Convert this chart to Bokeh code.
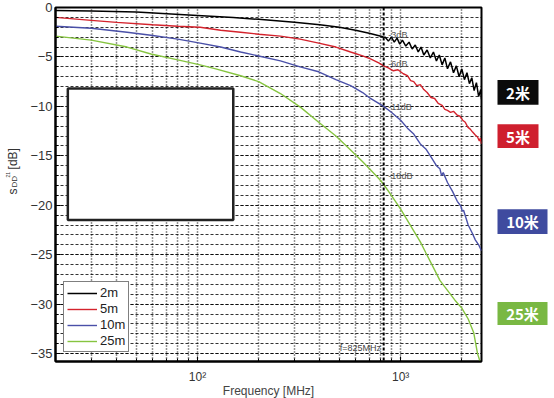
import math
from bokeh.plotting import figure
from bokeh.layouts import row
from bokeh.models import FixedTicker, Label, Legend, LegendItem, Span, Range1d
from bokeh.core.properties import value
from bokeh.embed import file_html
from bokeh.resources import INLINE

# ---------------- data ----------------
freq_2m = [20, 30, 50, 100, 150, 200, 300, 400, 500, 600, 700, 800, 825,
           840, 870, 900, 930, 960, 990, 1020, 1060, 1100, 1140, 1180, 1220, 1260, 1300,
           1350, 1400, 1450, 1500, 1550, 1600, 1650, 1700, 1760, 1820, 1880, 1940, 2000,
           2060, 2120, 2180, 2240, 2300, 2360, 2420, 2480, 2500]
db_2m = [-0.3, -0.35, -0.45, -0.8, -1.0, -1.2, -1.5, -1.75, -2.0, -2.3, -2.6, -2.9, -3.0,
         -3.0, -3.4, -3.0, -3.5, -3.1, -3.7, -3.3, -3.9, -3.5, -4.2, -3.8, -4.5, -4.0, -4.8,
         -4.3, -5.1, -4.5, -5.4, -4.8, -5.8, -5.1, -6.2, -5.5, -6.6, -5.9, -7.0, -6.2,
         -7.3, -6.6, -7.7, -7.1, -8.4, -7.6, -9.0, -8.3, -9.3]

freq_5m = [20, 30, 40, 60, 80, 103, 130, 163, 200, 256, 320, 395, 480, 567, 650, 710, 780,
           825, 870, 920, 970, 1030, 1080, 1120, 1160, 1200, 1250, 1300, 1350, 1410, 1470,
           1530, 1600, 1650, 1700, 1760, 1820, 1900, 1960, 2020, 2080, 2140, 2200, 2260,
           2330, 2390, 2440, 2470, 2500]
db_5m = [-1.0, -1.3, -1.5, -1.75, -1.9, -2.0, -2.3, -2.5, -2.7, -2.9, -3.2, -3.6, -4.0, -4.5,
         -4.9, -5.2, -5.6, -5.9, -6.1, -6.4, -6.3, -6.7, -6.9, -7.4, -7.5, -7.9, -7.8, -8.3,
         -8.6, -9.1, -9.2, -9.7, -9.9, -10.3, -10.4, -10.6, -10.5, -10.9, -11.0, -11.4,
         -11.6, -12.1, -12.3, -12.6, -12.9, -13.1, -13.5, -13.2, -13.8]

freq_10m = [20, 30, 45, 59, 80, 103, 130, 163, 200, 256, 320, 395, 480, 567, 650, 710, 780,
            825, 900, 1000, 1080, 1160, 1250, 1330, 1410, 1500, 1560, 1590, 1620, 1700, 1800,
            1900, 1980, 2010, 2040, 2150, 2250, 2330, 2420, 2500]
db_10m = [-1.9, -2.1, -2.5, -2.8, -3.2, -3.6, -4.0, -4.5, -4.9, -5.4, -6.0, -6.5, -7.3, -7.9,
          -8.6, -9.2, -9.7, -10.0, -10.6, -11.4, -12.2, -12.8, -13.8, -14.3, -15.1, -16.0,
          -16.3, -17.0, -16.7, -17.7, -18.6, -19.6, -20.1, -20.6, -20.5, -22.0, -22.8, -23.5,
          -24.0, -24.6]

freq_25m = [20, 30, 45, 59, 80, 103, 123, 163, 200, 256, 322, 395, 480, 567, 650, 710, 797,
            825, 900, 1000, 1100, 1250, 1330, 1450, 1560, 1700, 1850, 2000, 2150, 2290, 2390,
            2450, 2500]
db_25m = [-2.9, -3.3, -4.0, -4.7, -5.3, -5.8, -6.2, -6.9, -7.5, -8.7, -10.1, -11.6, -13.0,
          -14.4, -15.6, -16.4, -17.5, -17.9, -19.0, -20.4, -21.8, -23.7, -24.8, -26.3, -27.6,
          -28.6, -29.6, -30.4, -31.5, -32.9, -35.0, -35.7, -36.5]

series_names = ["2m", "5m", "10m", "25m"]
series_colors = ["#000000", "#d4232d", "#4a50a8", "#86c440"]
box_labels = ["2米", "5米", "10米", "25米"]
box_colors = ["#0b0b0b", "#cf1f2e", "#3f4b9f", "#79b843"]

y_major = [0, -5, -10, -15, -20, -25, -30, -35]
y_minor = list(range(0, -36, -1))
x_major = [100, 1000]
x_minor = [20, 30, 40, 50, 60, 70, 80, 90, 200, 300, 400, 500, 600, 700, 800, 900, 2000]

marker_freq = 825
marker_texts = ["-3dB", "-6dB", "-11dB", "-18dB"]
marker_text_y = [-2.8, -5.7, -10.1, -17.0]

FONT = "Liberation Sans"
H = 398

# ---------------- main figure ----------------
p = figure(frame_width=426, frame_height=354, x_axis_type="log",
           x_range=(20, 2500), y_range=(-35.8, 0),
           output_backend="svg", toolbar_location=None,
           min_border_left=33, min_border_right=2, min_border_top=7, min_border_bottom=37)
p.background_fill_color = "white"
p.border_fill_color = "white"
p.outline_line_color = "black"
p.outline_line_width = 2

p.yaxis.ticker = FixedTicker(ticks=y_major, minor_ticks=y_minor)
p.xaxis.ticker = FixedTicker(ticks=x_major, minor_ticks=x_minor)
p.xaxis.major_label_overrides = {100: "10²", 1000: "10³"}
for ax in (p.xaxis[0], p.yaxis[0]):
    ax.axis_line_color = "black"
    ax.axis_line_width = 2
    ax.major_tick_in = 5
    ax.major_tick_out = 0
    ax.minor_tick_in = 3
    ax.minor_tick_out = 0
    ax.major_tick_line_color = "black"
    ax.minor_tick_line_color = "black"
    ax.major_label_text_font = FONT
    ax.major_label_text_color = "#333333"
    ax.major_label_standoff = 3
p.yaxis.major_label_text_font_size = "13px"
p.xaxis.major_label_text_font_size = "12px"
p.xaxis.major_label_standoff = 8
p.xaxis.axis_label = "Frequency [MHz]"
p.xaxis.axis_label_text_font = FONT
p.xaxis.axis_label_text_font_size = "12px"
p.xaxis.axis_label_text_font_style = "normal"
p.xaxis.axis_label_text_color = "#444444"
p.xaxis.axis_label_standoff = -3

p.ygrid.grid_line_color = "black"
p.ygrid.grid_line_alpha = 0.8
p.ygrid.grid_line_dash = "3 2"
p.ygrid.minor_grid_line_color = "black"
p.ygrid.minor_grid_line_alpha = 0.8
p.ygrid.minor_grid_line_dash = "3 2"
p.xgrid.grid_line_color = "black"
p.xgrid.grid_line_alpha = 0.85
p.xgrid.grid_line_width = 1.5
p.xgrid.grid_line_dash = "1 2"
p.xgrid.minor_grid_line_color = "black"
p.xgrid.minor_grid_line_alpha = 0.85
p.xgrid.minor_grid_line_width = 1.5
p.xgrid.minor_grid_line_dash = "1 2"

p.add_layout(Span(location=marker_freq, dimension="height", line_color="black",
                  line_width=2, line_dash="3 2"))

# white overlay box
p.quad(left=[23], right=[150], top=[-8.2], bottom=[-21.5], fill_color="white",
       line_color="#222222", line_width=2.5)

renderers = []
for fx, fy, c, w in [(freq_2m, db_2m, series_colors[0], 1.5),
                     (freq_5m, db_5m, series_colors[1], 1.4),
                     (freq_10m, db_10m, series_colors[2], 1.4),
                     (freq_25m, db_25m, series_colors[3], 1.4)]:
    renderers.append(p.line(fx, fy, line_color=c, line_width=w))

legend = Legend(items=[LegendItem(label=n, renderers=[r]) for n, r in zip(series_names, renderers)],
                location=(8, 9), orientation="vertical")
legend.label_text_font = FONT
legend.label_text_font_size = "13px"
legend.label_text_color = "#222222"
legend.glyph_width = 30
legend.glyph_height = 14
legend.label_height = 14
legend.label_standoff = 3
legend.spacing = 1
legend.padding = 3
legend.margin = 0
legend.border_line_color = "black"
legend.border_line_width = 1.5
legend.background_fill_alpha = 1
p.add_layout(legend, "center")

for t, yv in zip(marker_texts, marker_text_y):
    p.add_layout(Label(x=870, y=yv, text=t, text_font=FONT, text_font_size="9px",
                       text_color="#555555", text_baseline="middle", text_align="left"))
p.add_layout(Label(x=800, y=-34.4, text="f=825MHz", text_font=FONT,
                   text_font_size="9px", text_color="#444444", text_baseline="middle",
                   text_align="right"))

# ---------------- left strip: y axis title ----------------
pl = figure(width=22, height=H, x_range=Range1d(0, 22), y_range=Range1d(0, H),
            min_border=0, x_axis_location=None, y_axis_location=None,
            output_backend="svg", toolbar_location=None)
pl.outline_line_color = None
pl.grid.visible = False
rot = math.pi / 2
pl.text(x=[12.5], y=[190], text=["s"], angle=rot, text_font=value(FONT),
        text_font_size="12px", text_color="#333333", text_align="center", text_baseline="middle")
pl.text(x=[14], y=[201], text=["DD"], angle=rot, text_font=value(FONT),
        text_font_size="8px", text_color="#333333", text_align="center", text_baseline="middle")
pl.text(x=[7], y=[209], text=["21"], angle=rot, text_font=value(FONT),
        text_font_size="5px", text_color="#333333", text_align="center", text_baseline="middle")
pl.text(x=[12], y=[227], text=["[dB]"], angle=rot, text_font=value(FONT),
        text_font_size="12px", text_color="#333333", text_align="center", text_baseline="middle")

# ---------------- right strip: coloured length tags ----------------
pr = figure(width=71, height=H, x_range=Range1d(483, 554), y_range=Range1d(0, H),
            min_border=0, x_axis_location=None, y_axis_location=None,
            output_backend="svg", toolbar_location=None)
pr.outline_line_color = None
pr.grid.visible = False
box_x = [517.5, 517.5, 522, 522]
box_y = [302, 252.5, 156, 52]
box_w = [41, 41, 50, 50]
box_h = [28, 27, 28, 26]
pr.rect(x=box_x, y=box_y, width=box_w, height=box_h, fill_color=box_colors, line_color=None)
pr.text(x=box_x, y=box_y, text=box_labels, text_font=value("Noto Sans CJK SC"),
        text_font_size="15px", text_font_style="bold", text_color="white",
        text_align="center", text_baseline="middle")

layout = row(pl, p, pr)
open("out.html", "w").write(file_html(layout, INLINE))
